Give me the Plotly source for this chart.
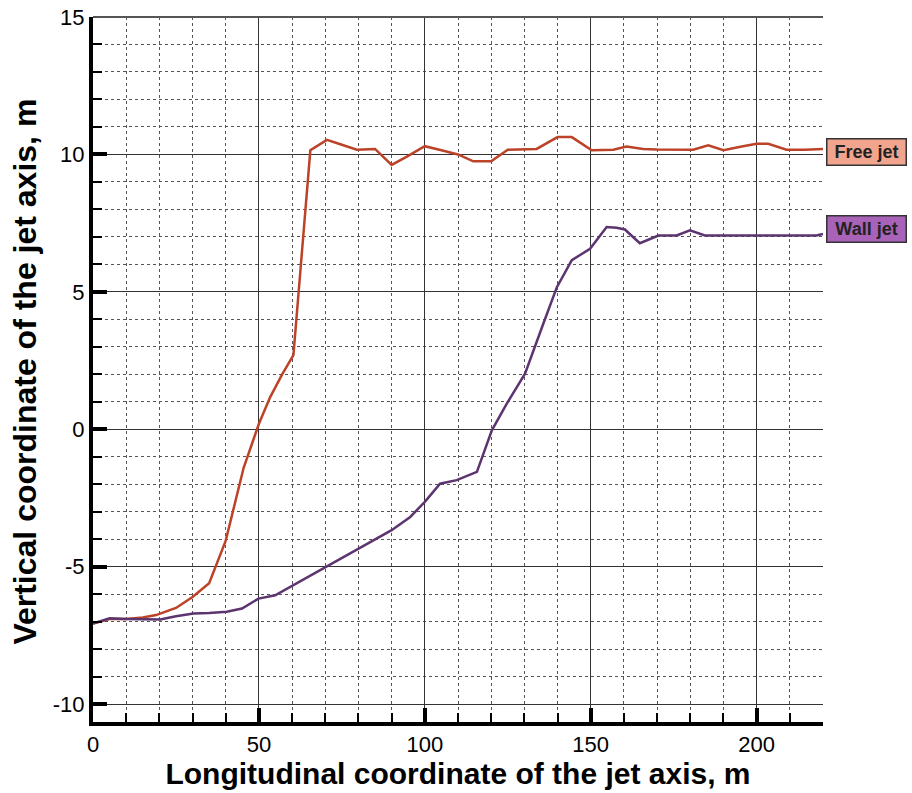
import plotly.graph_objects as go

# Free jet
free_x = [0, 5, 10, 15, 19, 25, 30, 35, 40, 45.4, 50, 53.4, 57, 60.4, 65.5, 70.5, 75, 79.5, 85, 90,
          95, 100, 105, 110, 114.6, 120, 125, 130, 133.7, 140, 144.3, 150.3, 156.8, 160.8, 165.8,
          170, 175, 180.9, 185.4, 190, 195.5, 200, 203.5, 209, 214.5, 220]
free_y = [-7.07, -6.9, -6.9, -6.85, -6.76, -6.5, -6.1, -5.6, -4.05, -1.4, 0.2, 1.17, 2.0, 2.7, 10.15, 10.53, 10.35, 10.17, 10.2, 9.62,
          9.95, 10.3, 10.15, 10.0, 9.75, 9.75, 10.17, 10.2, 10.2, 10.63, 10.63, 10.15, 10.17, 10.29, 10.2,
          10.18, 10.17, 10.17, 10.33, 10.15, 10.29, 10.39, 10.39, 10.17, 10.17, 10.2]

# Wall jet
wall_x = [0, 5, 10, 15, 20.3, 25, 30.3, 35, 40.3, 44.9, 49.9, 54.9, 60, 65, 70.5, 75, 80, 86.5, 90, 95.6,
          100, 104.6, 109.6, 115.7, 120.2, 124.7, 130.2, 135.7, 139.8, 144.3, 149.8, 154.8, 157.8,
          160.3, 164.8, 170.4, 175.9, 179.9, 184.4, 190, 200, 210, 218, 220]
wall_y = [-7.07, -6.88, -6.9, -6.9, -6.92, -6.8, -6.7, -6.68, -6.64, -6.52, -6.16, -6.04, -5.7, -5.35, -5.0, -4.7, -4.35, -3.92, -3.67, -3.19,
          -2.64, -1.98, -1.85, -1.55, -0.04, 0.93, 2.02, 3.84, 5.17, 6.15, 6.57, 7.36, 7.33,
          7.27, 6.77, 7.05, 7.05, 7.24, 7.05, 7.05, 7.05, 7.05, 7.05, 7.11]

x_ticks = [0, 50, 100, 150, 200]
y_ticks = [-10, -5, 0, 5, 10, 15]
labels = ["Free jet", "Wall jet"]
label_y = [10.1, 7.3]
x_title = "Longitudinal coordinate of the jet axis, m"
y_title = "Vertical coordinate of the jet axis, m"

FONT = "Liberation Sans, Arial, sans-serif"

fig = go.Figure()
fig.add_trace(go.Scatter(x=free_x, y=free_y, mode="lines",
                         line=dict(color="#bc4228", width=2.5), name=labels[0]))
fig.add_trace(go.Scatter(x=wall_x, y=wall_y, mode="lines",
                         line=dict(color="#5c3470", width=2.5), name=labels[1]))

axis_common = dict(
    showline=True, linecolor="black", linewidth=4,
    ticks="inside", ticklen=14, tickwidth=4, tickcolor="black",
    showgrid=True, gridcolor="#333333", gridwidth=1.2,
    zeroline=False, automargin=False,
    tickfont=dict(family=FONT, size=22, color="black"),
    minor=dict(ticks="inside", ticklen=9, tickwidth=1.5, tickcolor="black",
               showgrid=True, gridcolor="#555555", griddash="dot", gridwidth=1.3),
)

fig.update_xaxes(range=[0, 220], tickvals=x_ticks, ticktext=[str(v) for v in x_ticks],
                 minor_dtick=10, minor_tick0=0,
                 title=dict(text="<b>" + x_title + "</b>",
                            font=dict(family=FONT, size=30, color="black"), standoff=0),
                 **axis_common)
fig.update_yaxes(range=[-10.65, 15], tickvals=y_ticks, ticktext=[str(v) for v in y_ticks],
                 minor_dtick=1, minor_tick0=0,
                 **axis_common)

# y axis title as rotated annotation
fig.add_annotation(x=0, xref="paper", y=0.497, yref="paper", xshift=-68,
                   xanchor="center", yanchor="middle", textangle=-90, showarrow=False,
                   text="<b>" + y_title + "</b>",
                   font=dict(family=FONT, size=32, color="black"))

# top frame line
fig.add_shape(type="line", xref="paper", yref="paper", x0=0, x1=1, y0=1, y1=1,
              line=dict(color="#555555", width=2))

fig.add_annotation(x=1.0, xref="paper", y=label_y[0], yref="y", xanchor="left", xshift=3,
                   text="<b>" + labels[0] + "</b>", showarrow=False, width=74, height=21,
                   font=dict(family=FONT, size=18, color="#222222"),
                   bgcolor="#f2a58e", bordercolor="#333333", borderwidth=1.5, borderpad=2)
fig.add_annotation(x=1.0, xref="paper", y=label_y[1], yref="y", xanchor="left", xshift=3,
                   text="<b>" + labels[1] + "</b>", showarrow=False, width=74, height=21,
                   font=dict(family=FONT, size=18, color="#222222"),
                   bgcolor="#a862b8", bordercolor="#333333", borderwidth=1.5, borderpad=2)

fig.update_layout(
    width=912, height=793,
    margin=dict(l=93, r=89, t=17, b=71),
    paper_bgcolor="white", plot_bgcolor="white",
    showlegend=False,
)

fig.write_html("out.html")
